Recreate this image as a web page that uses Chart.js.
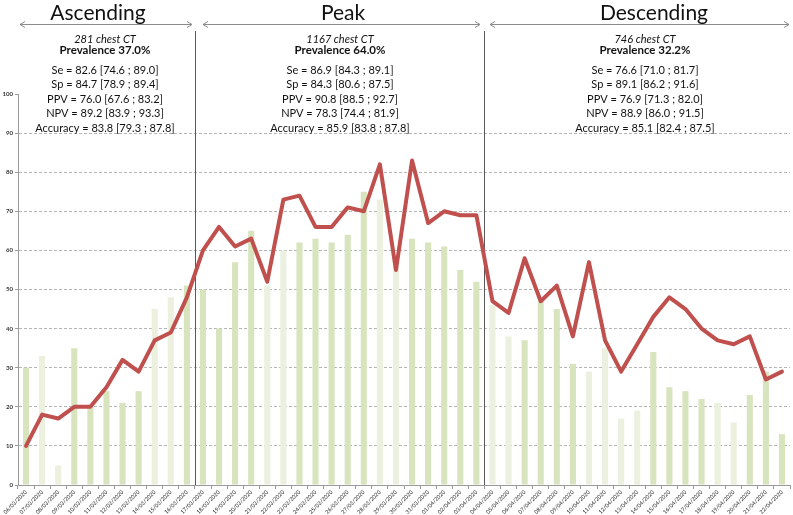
<!DOCTYPE html>
<html>
<head>
<meta charset="utf-8">
<script src="https://cdn.jsdelivr.net/npm/chart.js@4.4.1/dist/chart.umd.min.js"></script>
<style>
  html, body { margin: 0; padding: 0; background: #fff; }
  #wrap { width: 793px; height: 515px; }
</style>
</head>
<body>
<div id="wrap"><canvas id="chart" width="793" height="515"></canvas></div>
<script>
// daily values, 06/03/2020 -> 22/04/2020
const dates = [
  '06/03/2020', '07/03/2020', '08/03/2020', '09/03/2020', '10/03/2020', '11/03/2020', '12/03/2020', '13/03/2020',
  '14/03/2020', '15/03/2020', '16/03/2020', '17/03/2020', '18/03/2020', '19/03/2020', '20/03/2020', '21/03/2020',
  '22/03/2020', '23/03/2020', '24/03/2020', '25/03/2020', '26/03/2020', '27/03/2020', '28/03/2020', '29/03/2020',
  '30/03/2020', '31/03/2020', '01/04/2020', '02/04/2020', '03/04/2020', '04/04/2020', '05/04/2020', '06/04/2020',
  '07/04/2020', '08/04/2020', '09/04/2020', '10/04/2020', '11/04/2020', '12/04/2020', '13/04/2020', '14/04/2020',
  '15/04/2020', '16/04/2020', '17/04/2020', '18/04/2020', '19/04/2020', '20/04/2020', '21/04/2020', '22/04/2020'
];
const chestCT = [
  30, 33, 5, 35, 20, 24, 21, 24, 45, 48, 51, 50, 40, 57, 65, 51,
  60, 62, 63, 62, 64, 75, 73, 56, 63, 62, 61, 55, 52, 46, 38, 37,
  47, 45, 31, 29, 35, 17, 19, 34, 25, 24, 22, 21, 16, 23, 29, 13
];
const positiveRate = [
  10, 18, 17, 20, 20, 25, 32, 29, 37, 39, 48, 60, 66, 61, 63, 52,
  73, 74, 66, 66, 71, 70, 82, 55, 83, 67, 70, 69, 69, 47, 44, 58,
  47, 51, 38, 57, 37, 29, 36, 43, 48, 45, 40, 37, 36, 38, 27, 29
];
const holidays = ['10/04/2020', '13/04/2020'];
const yTicks = [0, 10, 20, 30, 40, 50, 60, 70, 80, 90, 100];

const phaseNames = ['Ascending', 'Peak', 'Descending'];
const phaseEnds = ['16/03/2020', '03/04/2020', '22/04/2020'];
const phaseCT = ['281 chest CT', '1167 chest CT', '746 chest CT'];
const phasePrevalence = ['Prevalence 37.0%', 'Prevalence 64.0%', 'Prevalence 32.2%'];
const phaseStats = [
  ['Se = 82.6 [74.6 ; 89.0]', 'Sp = 84.7 [78.9 ; 89.4]', 'PPV = 76.0 [67.6 ; 83.2]', 'NPV = 89.2 [83.9 ; 93.3]', 'Accuracy = 83.8 [79.3 ; 87.8]'],
  ['Se = 86.9 [84.3 ; 89.1]', 'Sp = 84.3 [80.6 ; 87.5]', 'PPV = 90.8 [88.5 ; 92.7]', 'NPV = 78.3 [74.4 ; 81.9]', 'Accuracy = 85.9 [83.8 ; 87.8]'],
  ['Se = 76.6 [71.0 ; 81.7]', 'Sp = 89.1 [86.2 ; 91.6]', 'PPV = 76.9 [71.3 ; 82.0]', 'NPV = 88.9 [86.0 ; 91.5]', 'Accuracy = 85.1 [82.4 ; 87.5]']
];

// weekends and public holidays get the pale bar
function isOffDay(label) {
  const [d, m, y] = label.split('/').map(Number);
  const wd = new Date(y, m - 1, d).getDay();
  return wd === 0 || wd === 6 || holidays.includes(label);
}

const FONT = 'Lato, "Open Sans", sans-serif';
const textCenters = [105, 340, 645];
const titleCenters = [98, 343, 654];
const arrows = [[20, 192], [203, 480], [490, 789]];

function drawArrow(ctx, x1, x2, y) {
  ctx.beginPath();
  ctx.moveTo(x1, y); ctx.lineTo(x2, y);
  ctx.moveTo(x1 + 5, y - 3); ctx.lineTo(x1, y); ctx.lineTo(x1 + 5, y + 3);
  ctx.moveTo(x2 - 5, y - 3); ctx.lineTo(x2, y); ctx.lineTo(x2 - 5, y + 3);
  ctx.stroke();
}

const phasePlugin = {
  id: 'phases',
  beforeDatasetsDraw(chart) {
    const { ctx, chartArea } = chart;
    const x = chart.scales.x;
    ctx.save();
    ctx.strokeStyle = '#595959';
    ctx.lineWidth = 1;
    phaseEnds.slice(0, -1).forEach(d => {
      const i = dates.indexOf(d);
      const px = Math.round((x.getPixelForValue(i) + x.getPixelForValue(i + 1)) / 2) + 0.5;
      ctx.beginPath();
      ctx.moveTo(px, 31);
      ctx.lineTo(px, chartArea.bottom);
      ctx.stroke();
    });
    ctx.restore();
  },
  afterDraw(chart) {
    const ctx = chart.ctx;
    ctx.save();
    ctx.fillStyle = '#111';
    ctx.textAlign = 'center';
    ctx.textBaseline = 'alphabetic';
    ctx.strokeStyle = '#8c8c8c';
    ctx.lineWidth = 1;
    phaseNames.forEach((name, k) => {
      ctx.font = '21px ' + FONT;
      ctx.fillText(name, titleCenters[k], 19.5);
      drawArrow(ctx, arrows[k][0], arrows[k][1], 24.5);
      const cx = textCenters[k];
      ctx.font = 'italic 11px ' + FONT;
      ctx.fillText(phaseCT[k], cx, 42.7);
      ctx.font = 'bold 11.5px ' + FONT;
      ctx.fillText(phasePrevalence[k], cx, 53.5);
      ctx.font = '11px ' + FONT;
      phaseStats[k].forEach((s, j) => ctx.fillText(s, cx, 74 + j * 14.4));
    });
    ctx.restore();
  }
};

new Chart(document.getElementById('chart'), {
  type: 'bar',
  data: {
    labels: dates,
    datasets: [
      {
        type: 'line',
        data: positiveRate,
        borderColor: '#c0504d',
        borderWidth: 4,
        pointRadius: 0,
        tension: 0,
        borderJoinStyle: 'round',
        borderCapStyle: 'round',
        order: 1
      },
      {
        data: chestCT,
        backgroundColor: dates.map(d => isOffDay(d) ? '#ebf1de' : '#d7e4bd'),
        barPercentage: 0.38,
        categoryPercentage: 1,
        order: 2
      }
    ]
  },
  options: {
    responsive: false,
    animation: false,
    layout: { padding: { top: 94, right: 3, left: 0, bottom: 0 } },
    plugins: { legend: { display: false }, tooltip: { enabled: false } },
    scales: {
      x: {
        afterFit: s => { s.height = 30; },
        grid: { display: true, drawOnChartArea: false, drawTicks: true, tickLength: 4, color: '#9a9a9a', offset: true },
        border: { color: '#9a9a9a' },
        ticks: {
          autoSkip: false, minRotation: 45, maxRotation: 45, padding: 0,
          color: '#222', font: { family: FONT, size: 5.5 }
        }
      },
      y: {
        min: 0, max: 100,
        afterFit: s => { s.width = 18; },
        afterBuildTicks: s => { s.ticks = yTicks.map(v => ({ value: v })); },
        grid: {
          color: c => (c.tick && (c.tick.value === 0 || c.tick.value === 100)) ? 'rgba(0,0,0,0)' : '#b5b5b5',
          tickColor: '#9a9a9a', tickLength: 3, tickBorderDash: []
        },
        border: { color: '#9a9a9a', dash: [3, 2] },
        ticks: { padding: 2, color: '#333', font: { family: FONT, size: 6, weight: 'bold' } }
      }
    }
  },
  plugins: [phasePlugin]
});
</script>
</body>
</html>
